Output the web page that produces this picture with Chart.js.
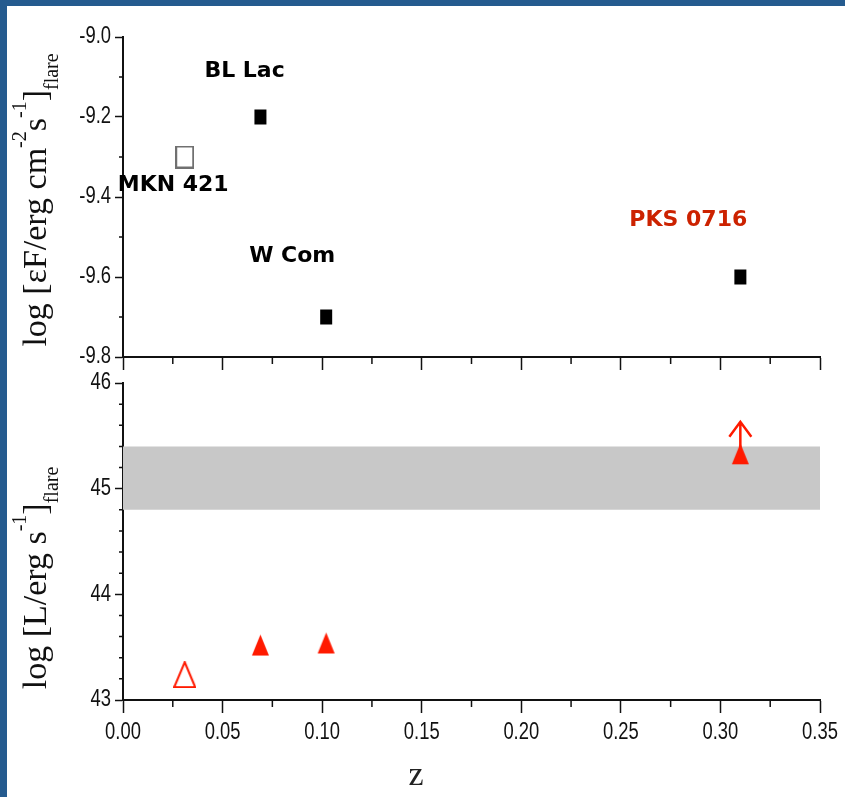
<!DOCTYPE html>
<html>
<head>
<meta charset="utf-8">
<script src="https://cdn.jsdelivr.net/npm/chart.js@4/dist/chart.umd.min.js"></script>
<style>
  html, body { margin: 0; padding: 0; background: #fff; }
  #frame {
    position: absolute; left: 0; top: 0; width: 845px; height: 797px;
    box-sizing: border-box; border-left: 7px solid #255b8f; border-top: 6px solid #255b8f;
  }
  canvas { position: absolute; left: 0; top: 0; }
</style>
</head>
<body>
<div id="frame"></div>
<canvas id="fluxChart" width="845" height="797"></canvas>
<canvas id="lumChart" width="845" height="797"></canvas>
<script>
// blazars and their flare values
const sources = ["MKN 421", "BL Lac", "W Com", "PKS 0716"];
const redshift = [0.031, 0.069, 0.102, 0.31];
const fluxLog = [-9.3, -9.2, -9.7, -9.6];
const lumLog = [43.24, 43.52, 43.54, 45.33];
const lowerLimit = [false, false, false, true];
const openMarker = [true, false, false, false];

// shaded luminosity range
const bandZ = [0, 0.35];
const bandLow = 44.8;
const bandHigh = 45.4;

// axis ranges
const zRange = [0, 0.35];
const fluxRange = [-9.8, -9.0];
const lumRange = [43, 46];

// name label placement: text start and baseline, pixels from the marker
const labelOffset = [[-67, 34], [-56, -40], [-77, -55], [-111, -51]];
const labelColor = ["#000", "#000", "#000", "#cc2200"];

const serif = "'Liberation Serif', 'Times New Roman', serif";
const narrow = "23px 'Liberation Sans', Arial, sans-serif";

function marker(shape, w, h, color, open) {
  const c = document.createElement("canvas");
  c.width = w;
  c.height = h;
  const ctx = c.getContext("2d");
  ctx.lineWidth = 2;
  ctx.strokeStyle = color;
  ctx.fillStyle = color;
  ctx.beginPath();
  if (shape === "square") {
    ctx.rect(1, 1, w - 2, h - 2);
  } else {
    ctx.moveTo(w / 2, 1);
    ctx.lineTo(w - 1, h - 1);
    ctx.lineTo(1, h - 1);
    ctx.closePath();
  }
  if (open) ctx.stroke();
  else ctx.fill();
  return c;
}

const squareStyles = openMarker.map((o) => (o ? marker("square", 19, 23, "#707070", true) : marker("square", 14, 17, "#000", false)));
const triangleStyles = openMarker.map((o) => (o ? marker("triangle", 23, 27, "#ff1a00", true) : marker("triangle", 19, 23, "#ff1a00", false)));

// minor tick marks between the labelled ones
const minorTicks = {
  id: "minorTicks",
  afterDraw(chart, args, opts) {
    const ctx = chart.ctx;
    const xs = chart.scales.x;
    const ys = chart.scales.y;
    ctx.save();
    ctx.strokeStyle = "#111";
    ctx.lineWidth = 1.5;
    ctx.beginPath();
    for (let i = 0; ; i++) {
      const v = xs.min + i * opts.xStep;
      if (v > xs.max + 1e-9) break;
      if (i % 2 === 0) continue;
      const px = xs.getPixelForValue(v);
      ctx.moveTo(px, xs.top);
      ctx.lineTo(px, xs.top + 7);
    }
    const n = Math.round((ys.max - ys.min) / opts.yStep);
    for (let i = 0; i <= n; i++) {
      if (i % opts.yEvery === 0) continue;
      const py = ys.getPixelForValue(ys.min + i * opts.yStep);
      ctx.moveTo(ys.right - 4, py);
      ctx.lineTo(ys.right, py);
    }
    ctx.stroke();
    ctx.restore();
  },
};

// tick labels in a condensed face
const narrowLabels = {
  id: "narrowLabels",
  afterDraw(chart, args, opts) {
    const ctx = chart.ctx;
    const squeeze = 0.8;
    ctx.save();
    ctx.font = narrow;
    ctx.fillStyle = "#111";
    ctx.textBaseline = "middle";
    const ys = chart.scales.y;
    ys.ticks.forEach((t) => {
      const py = ys.getPixelForValue(t.value);
      ctx.save();
      ctx.translate(ys.right - 12, py);
      ctx.scale(squeeze, 1);
      ctx.textAlign = "right";
      ctx.fillText(t.label, 0, 0);
      ctx.restore();
    });
    if (opts.xLabels) {
      const xs = chart.scales.x;
      xs.ticks.forEach((t) => {
        const px = xs.getPixelForValue(t.value);
        ctx.save();
        ctx.translate(px, xs.top + 33);
        ctx.scale(squeeze, 1);
        ctx.textAlign = "center";
        ctx.fillText(t.label, 0, 0);
        ctx.restore();
      });
      ctx.font = "34px " + serif;
      ctx.textAlign = "center";
      ctx.textBaseline = "alphabetic";
      ctx.fillStyle = "#222";
      ctx.fillText("z", 416, xs.top + 85);
    }
    ctx.restore();
  },
};

// rotated axis title with super- and subscripts
const yTitle = {
  id: "yTitle",
  afterDraw(chart, args, opts) {
    const ctx = chart.ctx;
    const big = "34px " + serif;
    const small = "20px " + serif;
    ctx.save();
    ctx.fillStyle = "#111";
    ctx.textBaseline = "alphabetic";
    let total = 0;
    opts.parts.forEach((p) => {
      ctx.font = p.k ? small : big;
      p.w = ctx.measureText(p.t).width;
      total += p.w;
    });
    ctx.translate(opts.x, opts.y);
    ctx.rotate(-Math.PI / 2);
    let x = -total / 2;
    opts.parts.forEach((p) => {
      ctx.font = p.k ? small : big;
      const dy = p.k === "sup" ? -20 : p.k === "sub" ? 12 : 0;
      ctx.fillText(p.t, x, dy);
      x += p.w;
    });
    ctx.restore();
  },
};

// source names next to the upper markers
const nameLabels = {
  id: "nameLabels",
  afterDatasetsDraw(chart) {
    const ctx = chart.ctx;
    const pts = chart.getDatasetMeta(0).data;
    ctx.save();
    ctx.font = "bold 22px 'DejaVu Sans', Verdana, sans-serif";
    ctx.textBaseline = "alphabetic";
    pts.forEach((pt, i) => {
      ctx.fillStyle = labelColor[i];
      ctx.fillText(sources[i], pt.x + labelOffset[i][0], pt.y + labelOffset[i][1]);
    });
    ctx.restore();
  },
};

// upward arrow for lower limits
const limitArrows = {
  id: "limitArrows",
  afterDatasetsDraw(chart) {
    const meta = chart.getDatasetMeta(2);
    const ctx = chart.ctx;
    ctx.save();
    ctx.strokeStyle = "#ff1a00";
    ctx.lineWidth = 2.5;
    meta.data.forEach((pt, i) => {
      if (!lowerLimit[i]) return;
      const top = pt.y - 32;
      ctx.beginPath();
      ctx.moveTo(pt.x, pt.y);
      ctx.lineTo(pt.x, top);
      ctx.moveTo(pt.x - 11, top + 15);
      ctx.lineTo(pt.x, top);
      ctx.lineTo(pt.x + 11, top + 15);
      ctx.stroke();
    });
    ctx.restore();
  },
};

function axisLine() {
  return { display: true, color: "#111", width: 2 };
}

function xScale(bottom) {
  return {
    type: "linear",
    min: zRange[0],
    max: zRange[1],
    border: axisLine(),
    grid: { drawOnChartArea: false, drawTicks: true, tickLength: 13, tickColor: "#111", tickWidth: 1.5 },
    ticks: { display: false, stepSize: 0.05, callback: (v) => v.toFixed(2) },
    afterFit: (s) => { s.height = bottom ? 97 : 0; },
  };
}

function yScale(range, step, digits) {
  return {
    type: "linear",
    min: range[0],
    max: range[1],
    border: axisLine(),
    grid: { drawOnChartArea: false, drawTicks: true, tickLength: 8, tickColor: "#111", tickWidth: 1.5 },
    ticks: { display: false, stepSize: step, callback: (v) => v.toFixed(digits) },
    afterFit: (s) => { s.width = 123; },
  };
}

const common = {
  responsive: false,
  animation: false,
  events: [],
  plugins: { legend: { display: false }, tooltip: { enabled: false } },
};

new Chart(document.getElementById("fluxChart"), {
  type: "scatter",
  data: {
    datasets: [{
      data: redshift.map((z, i) => ({ x: z, y: fluxLog[i] })),
      pointStyle: squareStyles,
      pointRadius: 8,
    }],
  },
  options: {
    ...common,
    layout: { padding: { top: 37, right: 25, bottom: 440, left: 0 } },
    scales: { x: xScale(false), y: yScale(fluxRange, 0.2, 1) },
    plugins: {
      ...common.plugins,
      minorTicks: { xStep: 0.025, yStep: 0.1, yEvery: 2 },
      narrowLabels: { xLabels: false },
      yTitle: {
        x: 46, y: 200,
        parts: [{ t: "log [εF/erg cm" }, { t: "-2", k: "sup" }, { t: "s" }, { t: "-1", k: "sup" }, { t: "]" }, { t: "flare", k: "sub" }],
      },
    },
  },
  plugins: [minorTicks, narrowLabels, yTitle, nameLabels],
});

new Chart(document.getElementById("lumChart"), {
  type: "scatter",
  data: {
    datasets: [
      {
        type: "line",
        data: bandZ.map((z) => ({ x: z, y: bandHigh })),
        borderWidth: 0,
        pointRadius: 0,
        backgroundColor: "#c8c8c8",
        fill: "+1",
        order: 2,
      },
      {
        type: "line",
        data: bandZ.map((z) => ({ x: z, y: bandLow })),
        borderWidth: 0,
        pointRadius: 0,
        fill: false,
        order: 2,
      },
      {
        data: redshift.map((z, i) => ({ x: z, y: lumLog[i] })),
        pointStyle: triangleStyles,
        pointRadius: 8,
        order: 0,
      },
    ],
  },
  options: {
    ...common,
    layout: { padding: { top: 383, right: 25, bottom: 0, left: 0 } },
    scales: { x: xScale(true), y: yScale(lumRange, 1, 0) },
    plugins: {
      ...common.plugins,
      minorTicks: { xStep: 0.025, yStep: 0.2, yEvery: 5 },
      narrowLabels: { xLabels: true },
      yTitle: {
        x: 46, y: 578,
        parts: [{ t: "log [L/erg s" }, { t: "-1", k: "sup" }, { t: "]" }, { t: "flare", k: "sub" }],
      },
    },
  },
  plugins: [minorTicks, narrowLabels, yTitle, limitArrows],
});
</script>
</body>
</html>
